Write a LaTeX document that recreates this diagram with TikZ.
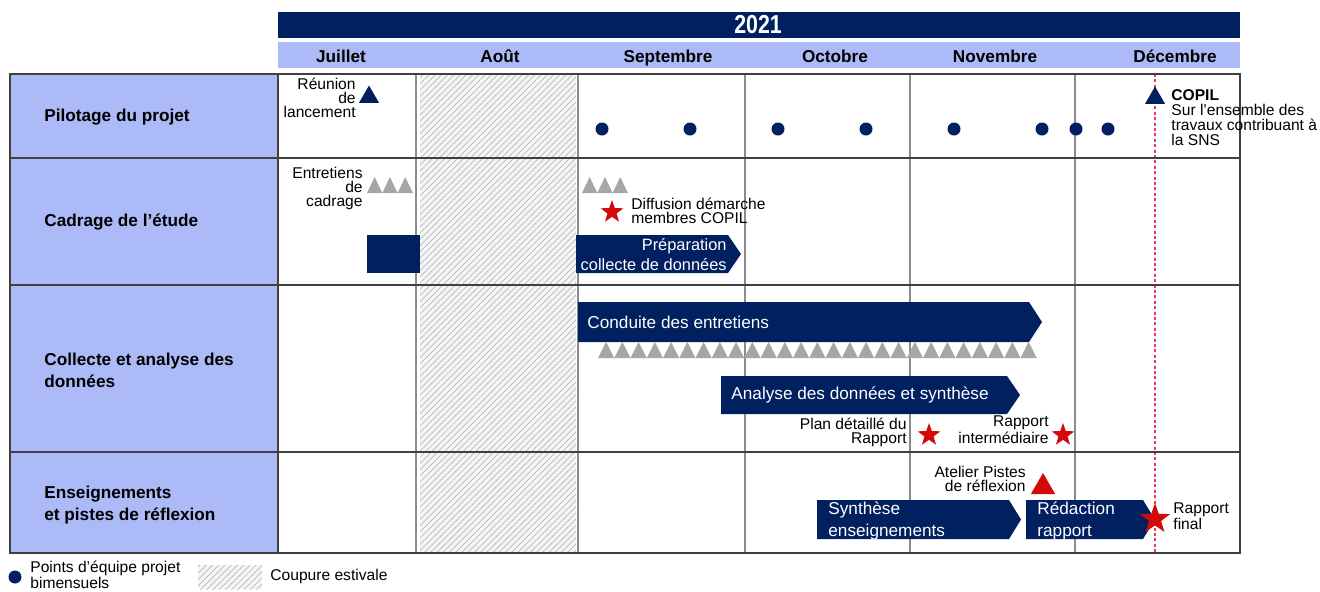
\documentclass[tikz,border=0pt]{standalone}
\usepackage{fontspec}
\setmainfont{Liberation Sans}
\usepackage{tikz}
\usetikzlibrary{positioning,shapes.geometric,patterns.meta}

\definecolor{navy}{RGB}{0,32,96}
\definecolor{lavande}{RGB}{172,186,247}
\definecolor{grisjalon}{RGB}{166,166,166}
\definecolor{rouge}{RGB}{210,10,10}
\definecolor{rose}{RGB}{230,60,90}

\begin{document}
\begin{tikzpicture}[x=0.5pt,y=-0.5pt]
	\tikzstyle{month}=[font=\fontsize{8.6}{9}\selectfont\bfseries,inner sep=0pt,anchor=base]
	\tikzstyle{rowlabel}=[font=\fontsize{8.6}{11}\selectfont\bfseries,anchor=west,align=left,inner sep=0pt]
	\tikzstyle{note}=[font=\fontsize{7.8}{7}\selectfont,inner sep=0pt]
	\tikzstyle{bartext}=[font=\fontsize{8.6}{10.5}\selectfont,text=white,inner sep=0pt]
	\tikzstyle{phase}=[fill=navy]
	\tikzstyle{rowline}=[draw=black!75,line width=1pt]
	\tikzstyle{monthline}=[draw=black!45,line width=0.6pt]
	\tikzstyle{hatch}=[preaction={fill=black!4},pattern={Lines[angle=45,distance=2.2pt,line width=0.35pt]},pattern color=black!28]
	\tikzstyle{jalon}=[regular polygon,regular polygon sides=3,fill=navy,inner sep=0pt,minimum size=11.5pt]
	\tikzstyle{etoile}=[star,star points=5,star point ratio=2.5,fill=rouge,inner sep=0pt,minimum size=12pt]

	\useasboundingbox (0,0) rectangle (1320,591);

	% en-tete
	\fill[navy] (278,12) rectangle (1240,38);
	\node[font=\fontsize{13}{13}\selectfont\bfseries,text=white,inner sep=0pt] (annee) at (758,25) {\scalebox{0.82}[1]{2021}};
	\fill[lavande] (278,42) rectangle (1240,68);
	\node[month] (jul) at (341,62) {Juillet};
	\node[month] (aou) at (500,62) {Août};
	\node[month] (sep) at (668,62) {Septembre};
	\node[month] (oct) at (835,62) {Octobre};
	\node[month] (nov) at (995,62) {Novembre};
	\node[month] (dec) at (1175,62) {Décembre};

	% grille
	\fill[lavande] (10,74) rectangle (278,553);
	\fill[hatch] (420,74) rectangle (576,553);
	\foreach \x in {416,578,745,910,1075}
		\draw[monthline] (\x,74) -- (\x,553);
	\draw[rose,dash pattern=on 1.5pt off 1.2pt,line width=0.6pt] (1155,74) -- (1155,553);
	\foreach \y in {158,285,452}
		\draw[rowline] (10,\y) -- (1240,\y);
	\draw[rowline] (278,74) -- (278,553);
	\draw[rowline] (10,74) rectangle (1240,553);

	\node[rowlabel] (pilotage) at (44,117) {Pilotage du projet};
	\node[rowlabel] (cadrage) at (44,222) {Cadrage de l'étude};
	\node[rowlabel] (collecte) at (44,370) {Collecte et analyse des\\données};
	\node[rowlabel] (enseign) at (44,505) {Enseignements\\et pistes de réflexion};

	% pilotage
	\node[note,anchor=east,align=right] (reuniontxt) at (356,98) {Réunion\\de\\lancement};
	\node[jalon] (reunion) at (369,97) {};
	\foreach \x in {602,690,778,866,954,1042,1076,1108}
		\fill[navy] (\x,129) circle (6.5);
	\node[jalon] (copil) at (1155,98) {};
	\node[note,anchor=north west,align=left,font=\fontsize{7.8}{7.6}\selectfont] (copiltxt) at (1171,89) {\textbf{COPIL}\\Sur l'ensemble des\\travaux contribuant à\\la SNS};

	% cadrage
	\node[note,anchor=east,align=right] (entretienstxt) at (363,188) {Entretiens\\de\\cadrage};
	\foreach \x in {367,382.3,397.6}
		\fill[grisjalon] (\x,193) -- (\x+7.65,177) -- (\x+15.3,193) -- cycle;
	\foreach \x in {582,597.3,612.6}
		\fill[grisjalon] (\x,193) -- (\x+7.65,177) -- (\x+15.3,193) -- cycle;
	\node[etoile] (diffusion) at (612,212) {};
	\node[note,anchor=west,align=left] (diffusiontxt) at (631,211) {Diffusion démarche\\membres COPIL};
	\fill[phase] (367,235) rectangle (420,273);
	\fill[phase] (576,235) -- (728,235) -- (741,254) -- (728,273) -- (576,273) -- cycle;
	\node[bartext,anchor=east,align=right,font=\fontsize{8.2}{10}\selectfont] (preparation) at (727,255) {Préparation\\collecte de données};

	% collecte
	\fill[phase] (578,302) -- (1029,302) -- (1042,322) -- (1029,342) -- (578,342) -- cycle;
	\node[bartext,anchor=west] (conduite) at (587,322) {Conduite des entretiens};
	\foreach \i in {0,...,26}
		\fill[grisjalon] ({598+16.25*\i},358) -- ({606.1+16.25*\i},342) -- ({614.25+16.25*\i},358) -- cycle;
	\fill[phase] (721,376) -- (1007,376) -- (1020,395) -- (1007,414) -- (721,414) -- cycle;
	\node[bartext,anchor=west] (analyse) at (731,395) {Analyse des données et synthèse};
	\node[note,anchor=east,align=right] (plantxt) at (907,432) {Plan détaillé du\\Rapport};
	\node[etoile] (plan) at (929,435) {};
	\node[note,anchor=east,align=right] (intertxt) at (1049,430) {Rapport\\intermédiaire};
	\node[etoile] (inter) at (1063,435) {};

	% enseignements
	\node[note,anchor=east,align=right] (ateliertxt) at (1026,479) {Atelier Pistes\\de réflexion};
	\node[jalon,fill=rouge,minimum size=14pt] (atelier) at (1043,487) {};
	\fill[phase] (817,500) -- (1009,500) -- (1021,519.5) -- (1009,539) -- (817,539) -- cycle;
	\node[bartext,anchor=west,align=left,font=\fontsize{8.6}{11}\selectfont] (synthese) at (828,521) {Synthèse\\enseignements};
	\fill[phase] (1026,500) -- (1143,500) -- (1155,519.5) -- (1143,539) -- (1026,539) -- cycle;
	\node[bartext,anchor=west,align=left,font=\fontsize{8.6}{11}\selectfont] (redaction) at (1037,521) {Rédaction\\rapport};
	\node[etoile,minimum size=16pt] (final) at (1155,519) {};
	\node[note,anchor=west,align=left] (finaltxt) at (1173,516) {Rapport\\final};

	% legende
	\fill[navy] (15,577) circle (6.5);
	\node[note,anchor=west,align=left] (pointstxt) at (30,575) {Points d'équipe projet\\bimensuels};
	\fill[hatch] (198,565) rectangle (262,589);
	\node[note,anchor=west] (coupure) at (270,576) {Coupure estivale};
\end{tikzpicture}
\end{document}
